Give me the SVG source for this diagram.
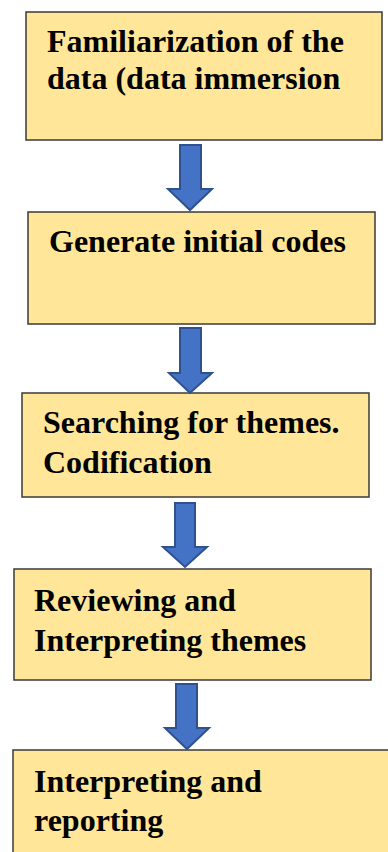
<svg xmlns="http://www.w3.org/2000/svg" width="388" height="852" viewBox="0 0 388 852">
<style>
.box{fill:#FFE699;stroke:#3a3a3a;stroke-width:1.5}
.arr{fill:#4472C4;stroke:#2F528F;stroke-width:2;stroke-linejoin:miter}
</style>
<rect width="388" height="852" fill="#fff"/>
<g font-family="Liberation Serif" font-weight="bold" font-size="32" fill="#000">
<g id="node1"><rect class="box" x="26" y="12" width="356" height="128"/>
<text x="47" y="52">Familiarization of the</text>
<text x="47" y="89">data (data immersion</text></g>
<g id="node2"><rect class="box" x="28" y="212" width="347" height="112"/>
<text x="49" y="252">Generate initial codes</text></g>
<g id="node3"><rect class="box" x="22" y="393" width="347" height="104"/>
<text x="43" y="433">Searching for themes.</text>
<text x="43" y="473">Codification</text></g>
<g id="node4"><rect class="box" x="14" y="569" width="357" height="111"/>
<text x="34" y="611">Reviewing and</text>
<text x="34" y="651">Interpreting themes</text></g>
<g id="node5"><rect class="box" x="13" y="750" width="380" height="110"/>
<text x="34" y="792">Interpreting and</text>
<text x="34" y="831">reporting</text></g>
</g>
<g id="connectors">
<polygon class="arr" points="180,145 201,145 201,189 212,189 190,210 168,189 180,189"/>
<polygon class="arr" points="180,328 201,328 201,373 212,373 190,393 169,373 180,373"/>
<polygon class="arr" points="175,503 195,503 195,547 207,547 185,567 163,547 175,547"/>
<polygon class="arr" points="176,684 197,684 197,728 209,728 187,749 165,728 176,728"/>
</g>
</svg>
